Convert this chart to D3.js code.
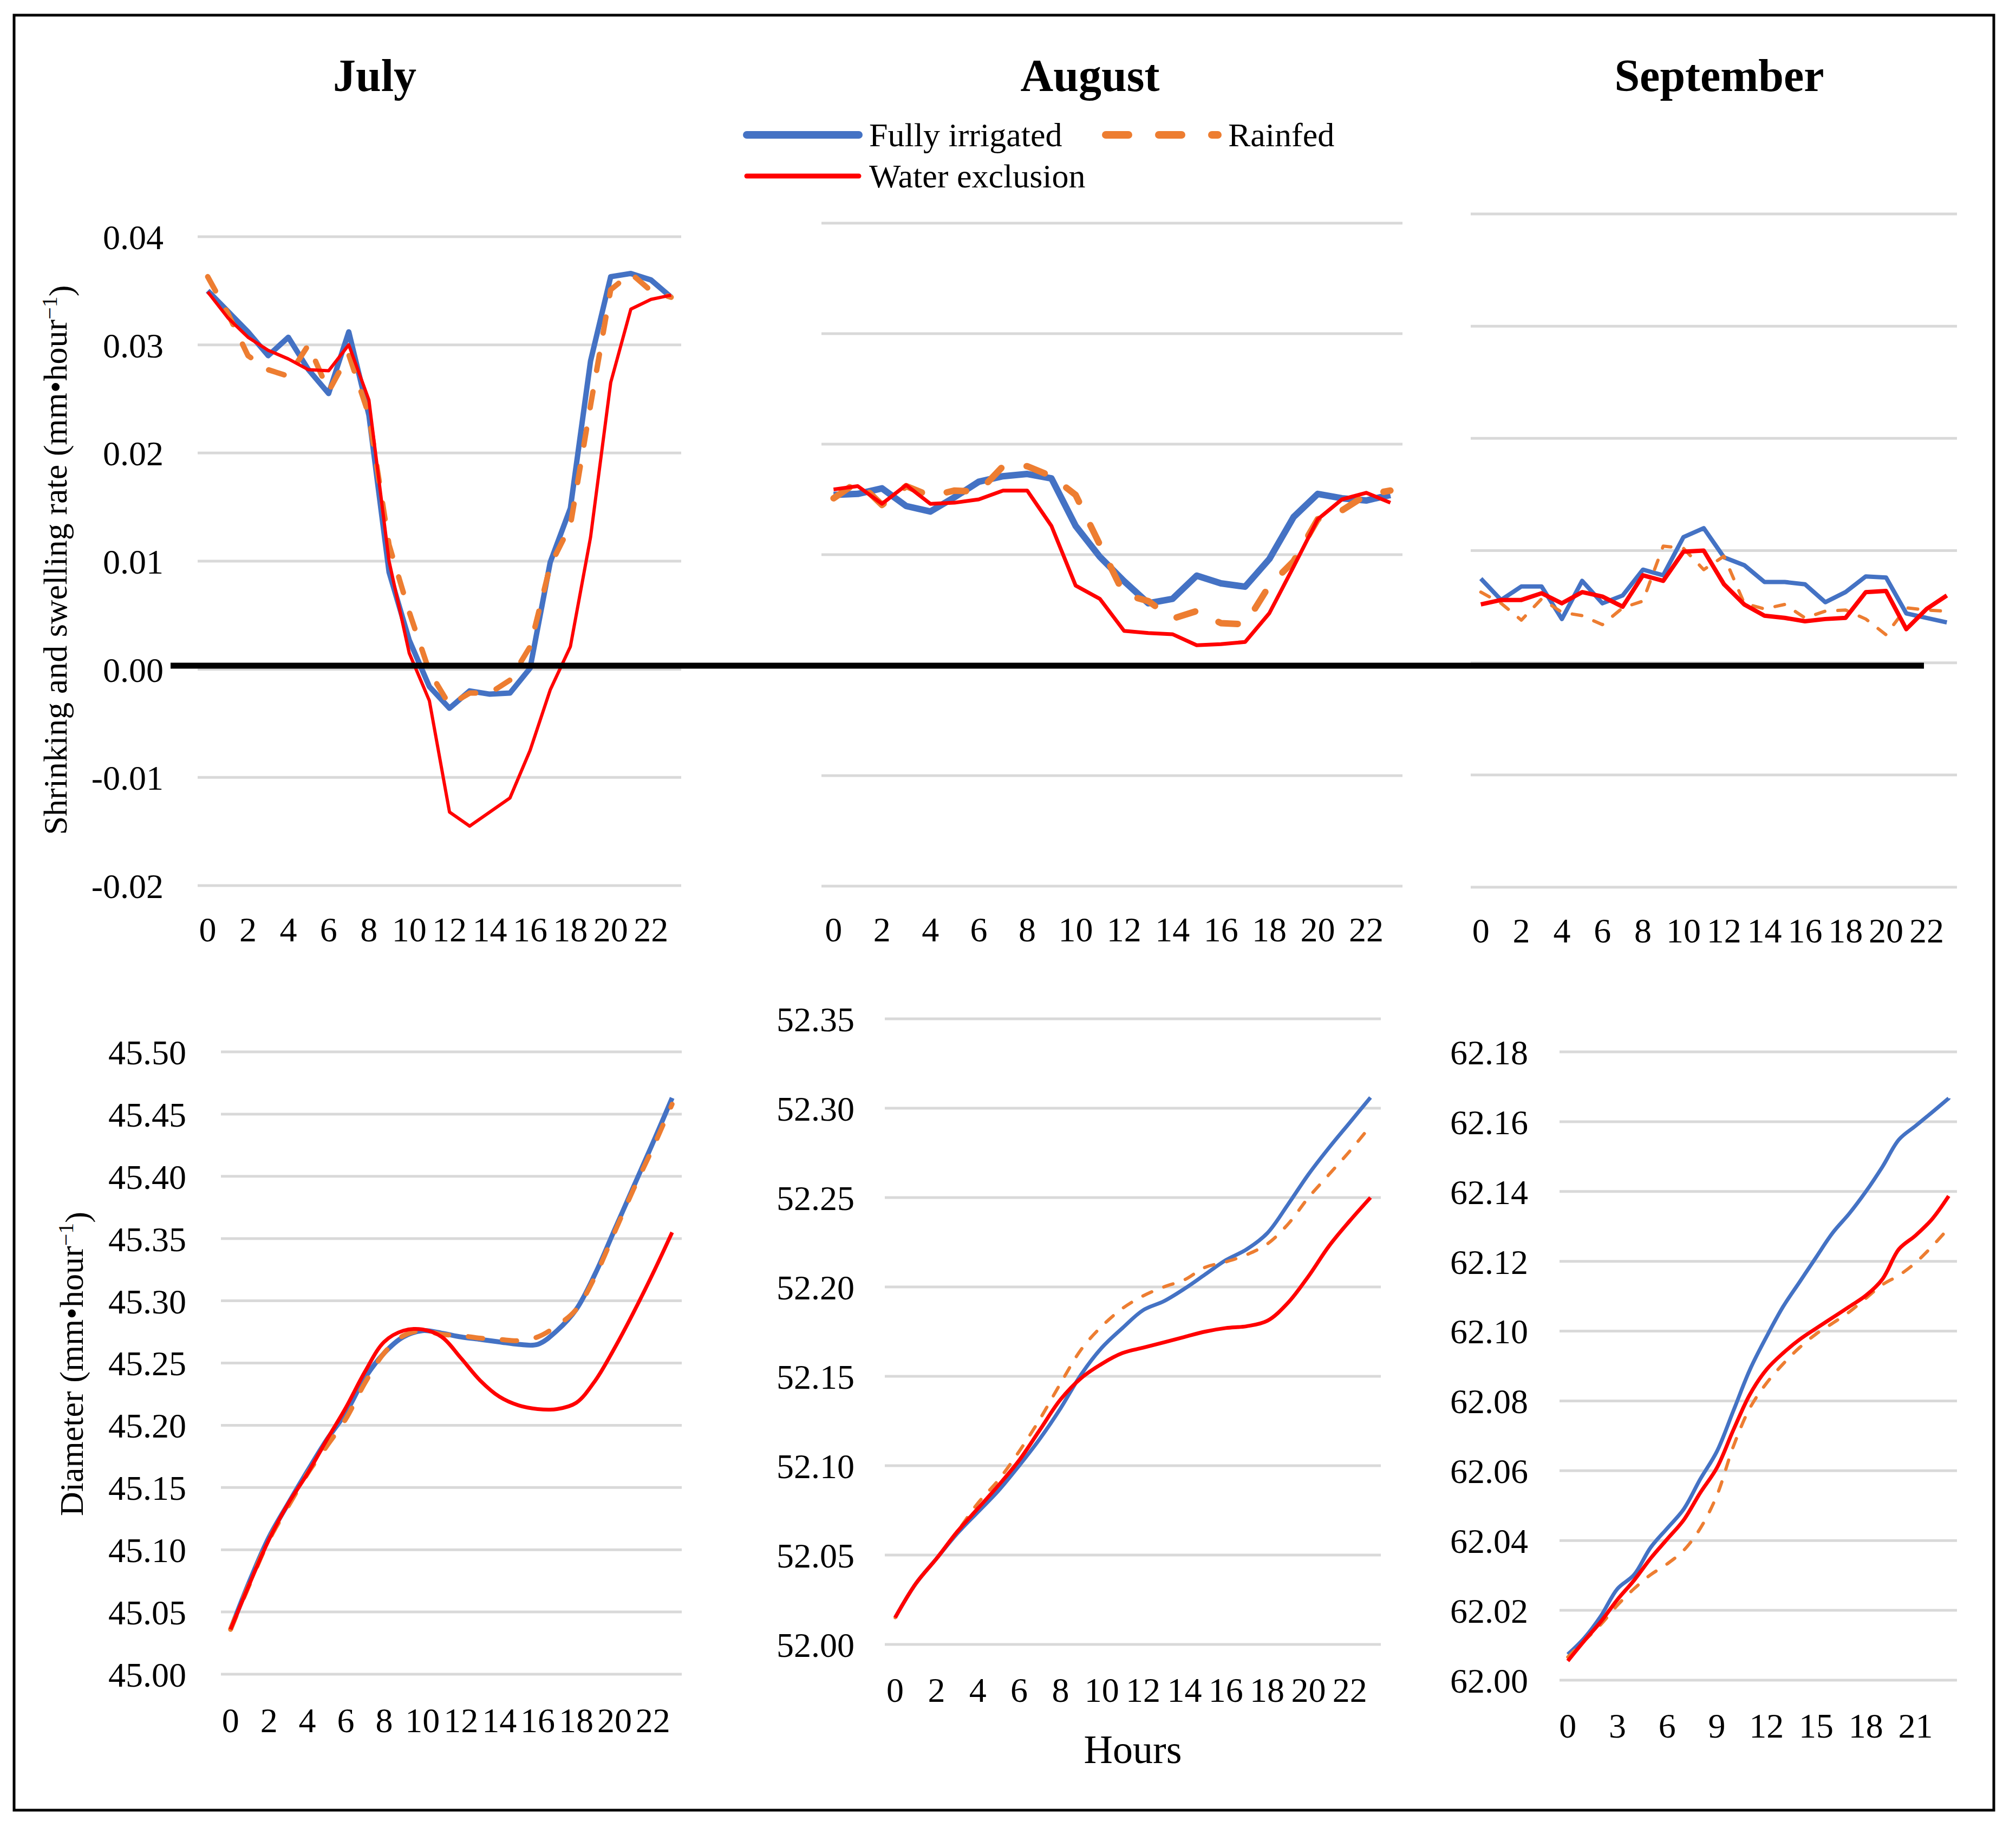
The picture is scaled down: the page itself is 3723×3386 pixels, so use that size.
<!DOCTYPE html>
<html>
<head>
<meta charset="utf-8">
<script src="https://cdn.jsdelivr.net/npm/d3@7"></script>
<style>
    html, body { margin: 0; padding: 0; background: #fff; }
    svg { display: block; font-family: "Liberation Serif", "Times New Roman", serif; }
</style>
</head>
<body>
<svg id="chart" width="3723" height="3386"></svg>
<script>
// categories (hour of day)
var hours = [0, 1, 2, 3, 4, 5, 6, 7, 8, 9, 10, 11, 12, 13, 14, 15, 16, 17, 18, 19, 20, 21, 22, 23];

// shrinking and swelling rate (mm/hour)
var julyRateFull = [0.0350, 0.0331, 0.0312, 0.0290, 0.0307, 0.0277, 0.0255, 0.0312, 0.0235, 0.0090, 0.0027, -0.0016,
    -0.0036, -0.0020, -0.0023, -0.0022, 0.0001, 0.0099, 0.0149, 0.0285, 0.0363, 0.0366, 0.0360, 0.0344];
var julyRateRain = [0.0363, 0.0329, 0.0290, 0.0277, 0.0271, 0.0300, 0.0257, 0.0291, 0.0235, 0.0115, 0.0053, -0.0002,
    -0.0033, -0.0022, -0.0022, -0.0010, 0.0021, 0.0096, 0.0133, 0.0244, 0.0351, 0.0366, 0.0350, 0.0344];
var julyRateExcl = [0.0349, 0.0325, 0.0307, 0.0295, 0.0287, 0.0277, 0.0276, 0.0300, 0.0249, 0.0100, 0.0015, -0.0029,
    -0.0132, -0.0145, -0.0132, -0.0119, -0.0075, -0.0019, 0.0021, 0.0122, 0.0265, 0.0333, 0.0342, 0.0346];

var augRateFull = [0.0154, 0.0155, 0.0160, 0.0144, 0.0139, 0.0152, 0.0166, 0.0171, 0.0173, 0.0169, 0.0126, 0.0098,
    0.0076, 0.0056, 0.0060, 0.0081, 0.0074, 0.0071, 0.0096, 0.0134, 0.0155, 0.0151, 0.0149, 0.0154];
var augRateRain = [0.0151, 0.0166, 0.0145, 0.0162, 0.0153, 0.0158, 0.0157, 0.0180, 0.0180, 0.0171, 0.0154, 0.0109,
    0.0064, 0.0058, 0.0042, 0.0049, 0.0038, 0.0037, 0.0072, 0.0094, 0.0132, 0.0140, 0.0154, 0.0158];
var augRateExcl = [0.0159, 0.0162, 0.0146, 0.0163, 0.0146, 0.0147, 0.0150, 0.0158, 0.0158, 0.0126, 0.0072, 0.0060,
    0.0031, 0.0029, 0.0028, 0.0018, 0.0019, 0.0021, 0.0047, 0.0089, 0.0132, 0.0150, 0.0156, 0.0147];

var sepRateFull = [0.0075, 0.0056, 0.0068, 0.0068, 0.0039, 0.0073, 0.0053, 0.0060, 0.0083, 0.0078, 0.0112, 0.0120,
    0.0094, 0.0087, 0.0072, 0.0072, 0.0070, 0.0054, 0.0063, 0.0077, 0.0076, 0.0044, 0.0040, 0.0036];
var sepRateRain = [0.0063, 0.0053, 0.0038, 0.0057, 0.0045, 0.0042, 0.0034, 0.0049, 0.0055, 0.0104, 0.0102, 0.0083,
    0.0095, 0.0053, 0.0048, 0.0052, 0.0040, 0.0046, 0.0047, 0.0039, 0.0025, 0.0049, 0.0047, 0.0046];
var sepRateExcl = [0.0052, 0.0056, 0.0056, 0.0062, 0.0053, 0.0063, 0.0059, 0.0050, 0.0078, 0.0073, 0.0099, 0.0100,
    0.0070, 0.0052, 0.0042, 0.0040, 0.0037, 0.0039, 0.0040, 0.0063, 0.0064, 0.0030, 0.0048, 0.0060];

// stem diameter (mm)
var julyDiamFull = [45.036, 45.075, 45.110, 45.137, 45.163, 45.188, 45.210, 45.238, 45.258, 45.271, 45.276, 45.274,
    45.271, 45.269, 45.267, 45.265, 45.265, 45.276, 45.293, 45.322, 45.357, 45.392, 45.427, 45.463];
var julyDiamRain = [45.036, 45.073, 45.108, 45.135, 45.161, 45.183, 45.205, 45.234, 45.258, 45.272, 45.276, 45.273,
    45.272, 45.270, 45.269, 45.268, 45.271, 45.280, 45.293, 45.320, 45.355, 45.390, 45.423, 45.458];
var julyDiamExcl = [45.036, 45.073, 45.108, 45.137, 45.161, 45.188, 45.214, 45.243, 45.267, 45.276, 45.277, 45.271,
    45.254, 45.236, 45.223, 45.216, 45.213, 45.213, 45.218, 45.236, 45.262, 45.291, 45.322, 45.355];

var augDiamFull = [52.015, 52.034, 52.048, 52.062, 52.074, 52.086, 52.100, 52.115, 52.132, 52.151, 52.166, 52.177,
    52.187, 52.192, 52.199, 52.207, 52.215, 52.221, 52.230, 52.246, 52.263, 52.278, 52.292, 52.306];
var augDiamRain = [52.015, 52.034, 52.048, 52.063, 52.079, 52.092, 52.108, 52.126, 52.146, 52.165, 52.178, 52.188,
    52.195, 52.200, 52.204, 52.211, 52.214, 52.218, 52.224, 52.235, 52.250, 52.263, 52.276, 52.290];
var augDiamExcl = [52.015, 52.034, 52.048, 52.063, 52.076, 52.089, 52.103, 52.120, 52.137, 52.149, 52.157, 52.163,
    52.166, 52.169, 52.172, 52.175, 52.177, 52.178, 52.181, 52.191, 52.206, 52.223, 52.237, 52.250];

var sepDiamFull = [62.0074, 62.0121, 62.0184, 62.0262, 62.0302, 62.0380, 62.0435, 62.0490, 62.0576, 62.0655, 62.0772, 62.0890,
    62.0984, 62.1070, 62.1141, 62.1212, 62.1282, 62.1337, 62.1400, 62.1471, 62.1549, 62.1588, 62.1627, 62.1667];
var sepDiamRain = [62.0066, 62.0113, 62.0160, 62.0215, 62.0262, 62.0302, 62.0333, 62.0372, 62.0435, 62.0529, 62.0670, 62.0780,
    62.0851, 62.0906, 62.0953, 62.0992, 62.1023, 62.1055, 62.1094, 62.1133, 62.1160, 62.1196, 62.1243, 62.1295];
var sepDiamExcl = [62.0055, 62.0113, 62.0168, 62.0231, 62.0286, 62.0349, 62.0404, 62.0459, 62.0537, 62.0608, 62.0717, 62.0819,
    62.0890, 62.0937, 62.0976, 62.1008, 62.1039, 62.1070, 62.1102, 62.1149, 62.1235, 62.1274, 62.1321, 62.1387];

// tick labels
var rateTicks = [-0.02, -0.01, 0.00, 0.01, 0.02, 0.03, 0.04];
var julyDiamTicks = [45.00, 45.05, 45.10, 45.15, 45.20, 45.25, 45.30, 45.35, 45.40, 45.45, 45.50];
var augDiamTicks = [52.00, 52.05, 52.10, 52.15, 52.20, 52.25, 52.30, 52.35];
var sepDiamTicks = [62.00, 62.02, 62.04, 62.06, 62.08, 62.10, 62.12, 62.14, 62.16, 62.18];

var seriesNames = ['Fully irrigated', 'Rainfed', 'Water exclusion'];
var monthNames = ['July', 'August', 'September'];

var COLORS = {full: '#4472C4', rain: '#ED7D31', excl: '#FF0000'};
var FONT_TICK = 64;

var svg = d3.select('#chart');

// outer frame
svg.append('rect')
    .attr('x', 26).attr('y', 28)
    .attr('width', 3656).attr('height', 3314)
    .attr('fill', 'none')
    .attr('stroke', '#000')
    .attr('stroke-width', 5);

//////////////////////   PANELS    //////////////////////

var panels = [
    {data: [julyRateFull, julyRateRain, julyRateExcl], left: 365, right: 1258, top: 437, bottom: 1635,
        domain: [-0.02, 0.04], ticks: rateTicks, showY: true, labelRight: 302, xLabelY: 1716, xStep: 2,
        widths: [10, 10, 6], smooth: false},
    {data: [augRateFull, augRateRain, augRateExcl], left: 1517, right: 2590, top: 412, bottom: 1636,
        domain: [-0.02, 0.04], ticks: rateTicks, showY: false, xLabelY: 1716, xStep: 2,
        widths: [12, 12, 7], smooth: false},
    {data: [sepRateFull, sepRateRain, sepRateExcl], left: 2716, right: 3614, top: 395, bottom: 1638,
        domain: [-0.02, 0.04], ticks: rateTicks, showY: false, xLabelY: 1718, xStep: 2,
        widths: [8, 6, 8], smooth: false},
    {data: [julyDiamFull, julyDiamRain, julyDiamExcl], left: 408, right: 1259, top: 1942, bottom: 3091,
        domain: [45.00, 45.50], ticks: julyDiamTicks, showY: true, labelRight: 344, xLabelY: 3176, xStep: 2,
        widths: [9, 9, 7], smooth: true},
    {data: [augDiamFull, augDiamRain, augDiamExcl], left: 1634, right: 2550, top: 1881, bottom: 3036,
        domain: [52.00, 52.35], ticks: augDiamTicks, showY: true, labelRight: 1578, xLabelY: 3120, xStep: 2,
        widths: [7, 6, 7], smooth: true},
    {data: [sepDiamFull, sepDiamRain, sepDiamExcl], left: 2880, right: 3614, top: 1942, bottom: 3102,
        domain: [62.00, 62.18], ticks: sepDiamTicks, showY: true, labelRight: 2822, xLabelY: 3186, xStep: 3,
        widths: [7, 6, 7], smooth: true}
];

var colorList = [COLORS.full, COLORS.rain, COLORS.excl];
var zeroYs = [];

panels.forEach(function (p) {
    var x = d3.scaleBand().domain(hours).range([p.left, p.right]).paddingInner(0).paddingOuter(0);
    var y = d3.scaleLinear().domain(p.domain).range([p.bottom, p.top]);
    var g = svg.append('g');

    if (p.domain[0] < 0) {
        zeroYs.push(y(0));
    }

    // gridlines
    g.selectAll('line.grid')
        .data(p.ticks)
        .enter()
        .append('line')
        .attr('class', 'grid')
        .attr('x1', p.left).attr('x2', p.right)
        .attr('y1', function (d) { return y(d); })
        .attr('y2', function (d) { return y(d); })
        .attr('stroke', '#d9d9d9')
        .attr('stroke-width', 5);

    // y axis labels
    if (p.showY) {
        var yAxis = d3.axisLeft(y)
            .tickValues(p.ticks)
            .tickSize(0)
            .tickPadding(0)
            .tickFormat(function (d) { return d.toFixed(2); });
        var ya = g.append('g')
            .attr('transform', 'translate(' + p.labelRight + ',0)')
            .call(yAxis);
        ya.select('.domain').remove();
        ya.selectAll('text')
            .attr('x', 0)
            .attr('dy', '0.35em')
            .style('font-size', FONT_TICK + 'px')
            .style('font-family', '"Liberation Serif", serif')
            .attr('fill', '#000');
    }

    // x axis labels
    var xAxis = d3.axisBottom(x)
        .tickValues(hours.filter(function (h) { return h % p.xStep === 0; }))
        .tickSize(0)
        .tickPadding(0);
    var xa = g.append('g')
        .attr('transform', 'translate(0,' + p.xLabelY + ')')
        .call(xAxis);
    xa.select('.domain').remove();
    xa.selectAll('text')
        .attr('y', 0)
        .attr('dy', '0.35em')
        .style('font-size', FONT_TICK + 'px')
        .style('font-family', '"Liberation Serif", serif')
        .attr('fill', '#000');

    // series lines
    var line = d3.line()
        .x(function (d, i) { return x(hours[i]) + x.bandwidth() / 2; })
        .y(function (d) { return y(d); })
        .curve(p.smooth ? d3.curveCatmullRom.alpha(0.5) : d3.curveLinear);

    p.data.forEach(function (values, k) {
        var w = p.widths[k];
        var path = g.append('path')
            .datum(values)
            .attr('d', line)
            .attr('fill', 'none')
            .attr('stroke', colorList[k])
            .attr('stroke-width', w)
            .attr('stroke-linejoin', 'round')
            .attr('stroke-linecap', k === 1 ? 'round' : 'butt');
        if (k === 1) {
            path.attr('stroke-dasharray', (3 * w) + ',' + (4 * w));
        }
    });
});

// heavy zero line across the three rate panels
var zeroY = d3.mean(zeroYs);
svg.append('line')
    .attr('x1', 315).attr('x2', 3553)
    .attr('y1', zeroY).attr('y2', zeroY)
    .attr('stroke', '#000')
    .attr('stroke-width', 11);

//////////////////////   TEXTS    //////////////////////

var titleX = [692, 2013, 3175];
svg.selectAll('text.month')
    .data(monthNames)
    .enter()
    .append('text')
    .attr('class', 'month')
    .attr('x', function (d, i) { return titleX[i]; })
    .attr('y', 168)
    .attr('text-anchor', 'middle')
    .style('font-size', '84px')
    .style('font-weight', 'bold')
    .text(function (d) { return d; });

function unitTitle(x, y, label) {
    var t = svg.append('text')
        .attr('transform', 'translate(' + x + ',' + y + ') rotate(-90)')
        .attr('text-anchor', 'middle')
        .style('font-size', '62px');
    t.append('tspan').text(label + ' (mm\u2022hour');
    t.append('tspan').attr('dy', '-0.45em').style('font-size', '40px').text('\u22121');
    t.append('tspan').attr('dy', '0.45em').text(')');
}
unitTitle(123, 1034, 'Shrinking and swelling rate');
unitTitle(153, 2518, 'Diameter');

svg.append('text')
    .attr('x', 2092).attr('y', 3255)
    .attr('text-anchor', 'middle')
    .style('font-size', '74px')
    .text('Hours');

// legend
var legendItems = [
    {x: 1379, y: 249, w: 14},
    {x: 2042, y: 249, w: 14},
    {x: 1379, y: 325, w: 9}
];
legendItems.forEach(function (it, k) {
    var l = svg.append('line')
        .attr('x1', it.x).attr('x2', it.x + 207)
        .attr('y1', it.y).attr('y2', it.y)
        .attr('stroke', colorList[k])
        .attr('stroke-width', it.w)
        .attr('stroke-linecap', 'round');
    if (k === 1) {
        l.attr('stroke-dasharray', (3 * it.w) + ',' + (4 * it.w));
    }
    svg.append('text')
        .attr('x', it.x + 226)
        .attr('y', it.y + 21)
        .style('font-size', '62px')
        .text(seriesNames[k]);
});
</script>
</body>
</html>
